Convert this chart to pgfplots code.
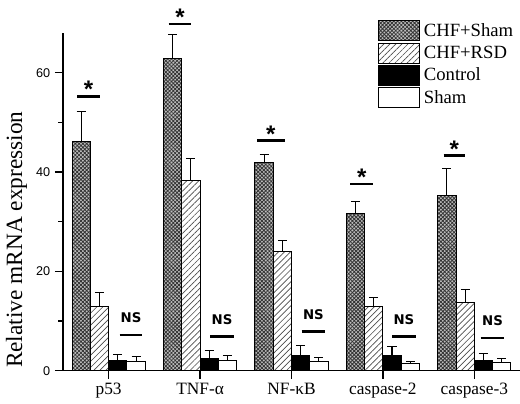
\documentclass[border=0pt]{standalone}
\usepackage{fontspec}
\setmainfont{Liberation Serif}
\newfontfamily\sansf{Liberation Sans}
\newfontfamily\nsfont{DejaVu Sans}
\usepackage{pgfplots}
\usepackage{pgfplotstable}
\pgfplotsset{compat=1.18}
\usetikzlibrary{patterns.meta}

\pgfplotstableread{
x y e
0 46.1 6.0
1 62.9 4.7
2 41.9 1.6
3 31.7 2.4
4 35.2 5.6
}\chfsham
\pgfplotstableread{
x y e
0 12.9 2.9
1 38.3 4.4
2 24.1 2.1
3 12.9 1.8
4 13.7 2.7
}\chfrsd
\pgfplotstableread{
x y e
0 2.1 1.2
1 2.5 1.6
2 3.0 2.1
3 3.0 1.9
4 2.0 1.4
}\control
\pgfplotstableread{
x y e
0 1.8 1.1
1 2.0 1.1
2 1.9 0.8
3 1.5 0.4
4 1.7 0.7
}\sham

\tikzset{star/.style={anchor=north, inner sep=0pt, font=\sansf\bfseries\fontsize{18}{18}\selectfont},
  ns/.style={anchor=south, inner sep=0pt, font=\nsfont\bfseries\fontsize{10}{10}\selectfont}}

\begin{document}
\begin{tikzpicture}
\begin{axis}[
  scale only axis, width=343pt, height=253.5pt,
  xmin=-0.5, xmax=4.5, ymin=0, ymax=68,
  axis lines*=left,
  axis line style={line width=1.1pt},
  clip=false,
  xtick={0,1,2,3,4},
  xticklabels={p53,TNF-α,NF-κB,caspase-2,caspase-3},
  xticklabel style={font=\fontsize{13}{13}\selectfont},
  ytick={0,20,40,60}, minor ytick={10,30,50},
  tick align=outside, major tick length=6pt, minor tick length=3.5pt,
  tick style={line width=1pt, black},
  yticklabel style={font=\sansf\fontsize{9.5}{10}\selectfont},
  /pgf/number format/assume math mode=true,
  ylabel={Relative mRNA expression},
  ylabel style={font=\fontsize{17.5}{18}\selectfont, at={(ticklabel cs:0.388)}},
  mybar/.style={ybar, bar width=0.2, bar shift=0pt, draw=black, line width=0.7pt,
    error bars/.cd, y dir=plus, y explicit,
    error bar style={line width=0.8pt, black},
    error mark options={line width=0.8pt, black, mark size=3.4pt, rotate=90},
    /pgfplots/.cd,
    legend image code/.code={\draw[##1] (0pt,-7.5pt) rectangle (31pt,7.5pt);}},
  legend style={at={(rel axis cs:0.688,1.038)}, anchor=north west, draw=none, fill=none,
    font=\fontsize{14}{14}\selectfont, row sep=1pt, inner sep=0pt,
    nodes={inner ysep=0pt, inner xsep=3pt}},
  legend cell align=left,
]
\addplot[mybar, fill=gray!50,
  postaction={pattern={Hatch[angle=45,distance=2pt,line width=0.6pt]}, pattern color=black!80}]
  table[x expr=\thisrow{x}-0.3, y=y, y error=e] {\chfsham};
\addlegendentry{CHF+Sham}
\addplot[mybar, fill=white,
  postaction={pattern={Lines[angle=45,distance=3.2pt,line width=0.5pt]}, pattern color=black!70}]
  table[x expr=\thisrow{x}-0.1, y=y, y error=e] {\chfrsd};
\addlegendentry{CHF+RSD}
\addplot[mybar, fill=black]
  table[x expr=\thisrow{x}+0.1, y=y, y error=e] {\control};
\addlegendentry{Control}
\addplot[mybar, fill=white]
  table[x expr=\thisrow{x}+0.3, y=y, y error=e] {\sham};
\addlegendentry{Sham}

% significance lines
\addplot[forget plot, line width=2.2pt] coordinates {(-0.345,55.3) (-0.095,55.3)};
\addplot[forget plot, line width=2.2pt] coordinates {(0.655,69.8) (0.905,69.8)};
\addplot[forget plot, line width=2.2pt] coordinates {(1.625,46.3) (1.925,46.3)};
\addplot[forget plot, line width=2.2pt] coordinates {(2.645,37.6) (2.895,37.6)};
\addplot[forget plot, line width=2.2pt] coordinates {(3.665,43.3) (3.895,43.3)};
\addplot[forget plot, line width=2.2pt] coordinates {(0.12,7.2) (0.37,7.2)};
\addplot[forget plot, line width=2.2pt] coordinates {(1.11,6.9) (1.37,6.9)};
\addplot[forget plot, line width=2.2pt] coordinates {(2.11,7.9) (2.37,7.9)};
\addplot[forget plot, line width=2.2pt] coordinates {(3.10,6.9) (3.36,6.9)};
\addplot[forget plot, line width=2.2pt] coordinates {(4.07,6.6) (4.33,6.6)};

\node[star] at (axis cs:-0.22,58.3) {*};
\node[star] at (axis cs:0.78,72.8) {*};
\node[star] at (axis cs:1.775,49.3) {*};
\node[star] at (axis cs:2.77,40.6) {*};
\node[star] at (axis cs:3.78,46.3) {*};

\node[ns] at (axis cs:0.245,9.55) {NS};
\node[ns] at (axis cs:1.24,9.25) {NS};
\node[ns] at (axis cs:2.24,10.25) {NS};
\node[ns] at (axis cs:3.23,9.25) {NS};
\node[ns] at (axis cs:4.2,8.95) {NS};
\end{axis}
\pgfresetboundingbox
\path[use as bounding box] ([xshift=-47.25pt,yshift=-24.75pt]current axis.south west) rectangle ([yshift=24.75pt]current axis.north east);
\end{tikzpicture}
\end{document}
